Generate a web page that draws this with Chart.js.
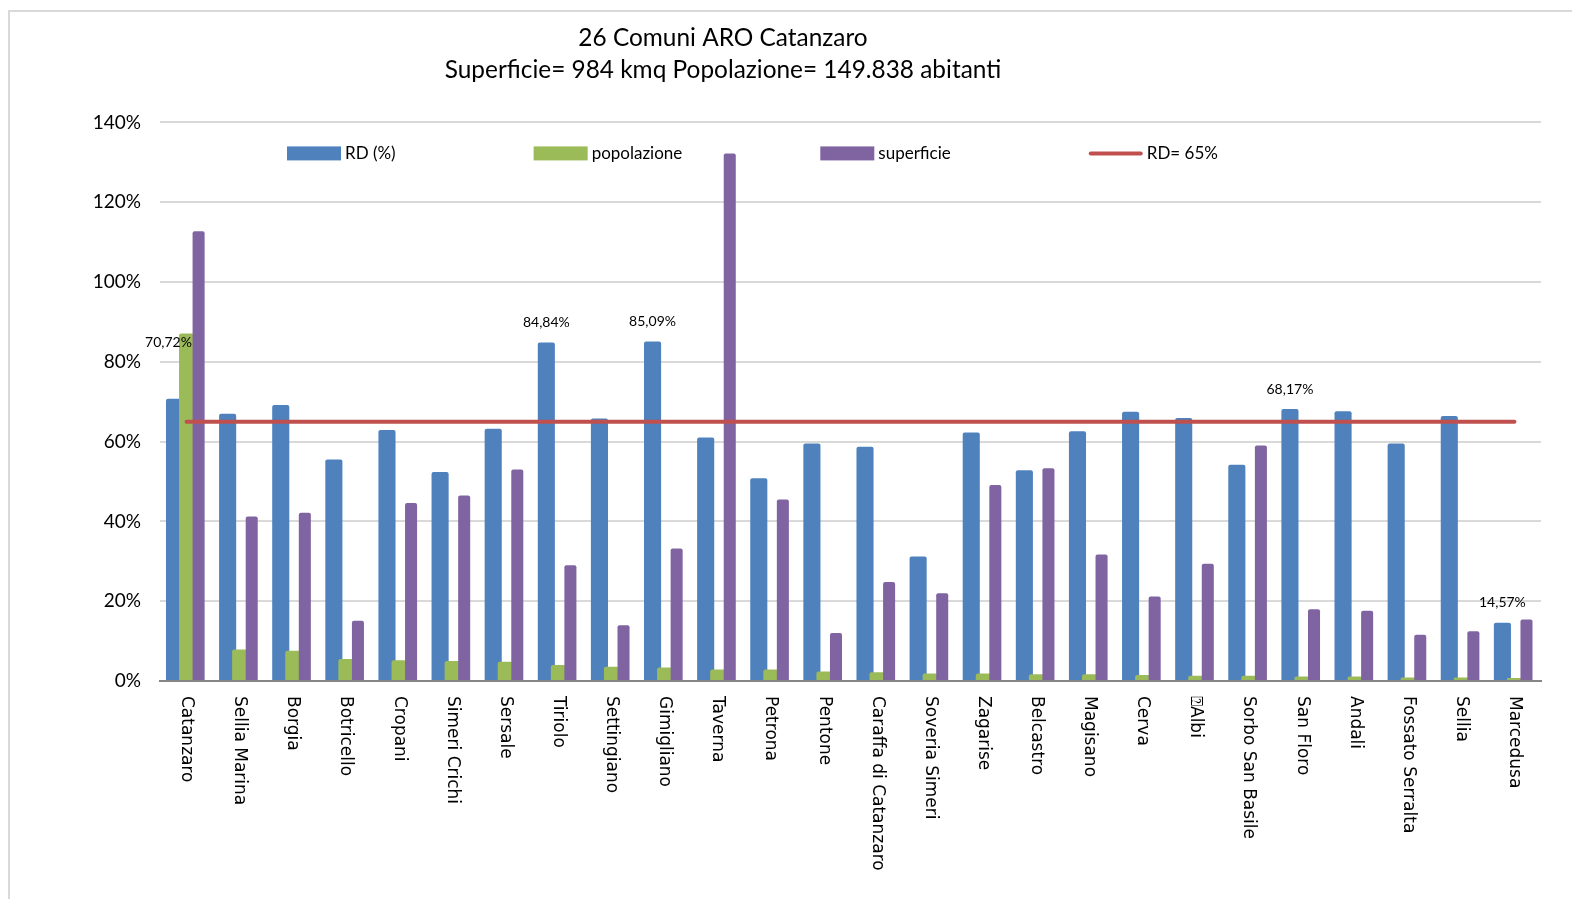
<!DOCTYPE html>
<html>
<head>
<meta charset="utf-8">
<script src="https://cdn.jsdelivr.net/npm/chart.js@4.4.1/dist/chart.umd.min.js"></script>
<style>
    html, body { margin: 0; padding: 0; background: #fff; overflow: hidden; }
    #frame { position: absolute; left: 8px; top: 10px; width: 1600px; height: 1000px; border: 2px solid #d9d9d9; box-sizing: border-box; }
    #wrap { position: absolute; left: 0; top: 0; width: 1572px; height: 899px; }
</style>
</head>
<body>
<div id="frame"></div>
<div id="wrap"><canvas id="chart" width="1572" height="899"></canvas></div>
<script>
const comuni = ['Catanzaro', 'Sellia Marina', 'Borgia', 'Botricello', 'Cropani', 'Simeri Crichi', 'Sersale',
    'Tiriolo', 'Settingiano', 'Gimigliano', 'Taverna', 'Petrona', 'Pentone', 'Caraffa di Catanzaro',
    'Soveria Simeri', 'Zagarise', 'Belcastro', 'Magisano', 'Cerva', '\u2370Albi', 'Sorbo San Basile',
    'San Floro', 'Andali', 'Fossato Serralta', 'Sellia', 'Marcedusa'];

const rd = [70.72, 67.0, 69.2, 55.5, 62.9, 52.4, 63.2, 84.84, 65.8, 85.09, 61.0, 50.8, 59.5,
    58.7, 31.2, 62.3, 52.8, 62.6, 67.5, 65.9, 54.2, 68.17, 67.6, 59.5, 66.4, 14.57];
const popolazione = [87.1, 7.9, 7.6, 5.5, 5.2, 5.0, 4.8, 4.0, 3.6, 3.4, 2.9, 2.9, 2.4,
    2.2, 1.9, 1.9, 1.7, 1.7, 1.5, 1.3, 1.3, 1.1, 1.1, 0.9, 0.9, 0.75];
const superficie = [112.7, 41.2, 42.2, 15.1, 44.6, 46.5, 53.0, 29.0, 14.0, 33.2, 132.2, 45.5, 12.0,
    24.8, 22.0, 49.1, 53.3, 31.7, 21.2, 29.4, 59.0, 18.0, 17.6, 11.6, 12.5, 15.4];
const SOGLIA_RD = 65;

const yTicks = [0, 20, 40, 60, 80, 100, 120, 140];
const rdLabelled = [0, 7, 9, 21, 25]; // comuni with the RD value written above the bar

const titleLines = ['26 Comuni ARO Catanzaro', 'Superficie= 984 kmq Popolazione= 149.838 abitanti'];

// the excel title is not centred on the canvas
const titleShift = {
    id: 'titleShift',
    afterLayout(chart) {
        const t = chart.titleBlock;
        t.left = 8;
        t.right = 1438;
        t.width = t.right - t.left;
    }
};

// legend sits inside the plot, under the 140% line
const innerLegend = {
    id: 'innerLegend',
    afterDatasetsDraw(chart) {
        const {ctx, chartArea} = chart;
        let x = chartArea.left + 127;
        const y = chartArea.top + 31;
        ctx.save();
        ctx.font = '17px Lato';
        ctx.textBaseline = 'middle';
        ctx.textAlign = 'left';
        chart.data.datasets.forEach(ds => {
            if (ds.type === 'line') {
                ctx.strokeStyle = ds.borderColor;
                ctx.lineWidth = 4;
                ctx.lineCap = 'round';
                ctx.beginPath();
                ctx.moveTo(x + 2, y);
                ctx.lineTo(x + 52, y);
                ctx.stroke();
            } else {
                ctx.fillStyle = ds.backgroundColor;
                ctx.fillRect(x, y - 7, 54, 14);
            }
            ctx.fillStyle = '#000';
            ctx.fillText(ds.label, x + 58, y);
            x += 58 + ctx.measureText(ds.label).width + 138;
        });
        ctx.restore();
    }
};

// category names read top to bottom
const verticalLabels = {
    id: 'verticalLabels',
    afterDraw(chart) {
        const {ctx, chartArea} = chart;
        const xScale = chart.scales.x;
        ctx.save();
        ctx.font = '17px "DejaVu Sans"';
        ctx.fillStyle = '#000';
        ctx.textAlign = 'left';
        ctx.textBaseline = 'middle';
        chart.data.labels.forEach((lab, i) => {
            ctx.save();
            ctx.translate(xScale.getPixelForValue(i), chartArea.bottom + 15);
            ctx.rotate(Math.PI / 2);
            ctx.fillText(lab, 0, 0);
            ctx.restore();
        });
        ctx.restore();
    }
};

const valueLabels = {
    id: 'valueLabels',
    afterDatasetsDraw(chart) {
        const {ctx} = chart;
        const meta = chart.getDatasetMeta(0);
        ctx.save();
        ctx.font = '14px Lato';
        ctx.fillStyle = '#000';
        ctx.textAlign = 'center';
        ctx.textBaseline = 'middle';
        rdLabelled.forEach(i => {
            const bar = meta.data[i];
            // the Catanzaro label was dragged up next to the green bar
            const dx = i === 0 ? -6 : 0;
            const dy = i === 0 ? -36 : 0;
            ctx.fillText(rd[i].toFixed(2).replace('.', ',') + '%', bar.x + dx, bar.y - 20 + dy);
        });
        ctx.restore();
    }
};

const ctx = document.getElementById('chart');

// draw order is blue, green, purple, line (purple over green over blue).
// chart.js puts the last drawn bar in the first slot, so the slots are mirrored
// with negative percentages to keep blue on the left.
new Chart(ctx, {
    type: 'bar',
    data: {
        labels: comuni,
        datasets: [
            {
                label: 'RD (%)',
                data: rd,
                backgroundColor: '#4F81BD',
                barPercentage: -1.42,
                order: 3
            },
            {
                label: 'popolazione',
                data: popolazione,
                backgroundColor: '#9BBB59',
                barPercentage: -1.25,
                order: 2
            },
            {
                label: 'superficie',
                data: superficie,
                backgroundColor: '#8064A2',
                barPercentage: -1,
                order: 1
            },
            {
                type: 'line',
                label: 'RD= 65%',
                data: comuni.map(() => SOGLIA_RD),
                borderColor: '#C0504D',
                borderWidth: 4,
                borderCapStyle: 'round',
                pointRadius: 0,
                order: 0
            }
        ]
    },
    options: {
        responsive: false,
        animation: false,
        layout: {
            padding: {left: 0, right: 31, top: 0, bottom: 0}
        },
        datasets: {
            bar: {
                categoryPercentage: -0.68,
                borderRadius: 2
            }
        },
        scales: {
            x: {
                grid: {display: false, drawTicks: false},
                border: {color: '#868686', width: 2},
                ticks: {display: false},
                afterFit: s => { s.height = 218; }
            },
            y: {
                min: 0,
                max: 140,
                afterBuildTicks: s => { s.ticks = yTicks.map(v => ({value: v})); },
                ticks: {
                    padding: 19,
                    color: '#000',
                    font: {family: 'Lato', size: 19},
                    callback: v => v + '%'
                },
                grid: {color: '#d9d9d9', lineWidth: 2, drawTicks: false},
                border: {display: false},
                afterFit: s => { s.width = 160; }
            }
        },
        plugins: {
            legend: {display: false},
            tooltip: {enabled: false},
            title: {
                display: true,
                text: titleLines,
                color: '#000',
                font: {family: 'Lato', size: 24.4, weight: 'normal', lineHeight: 1.32},
                padding: {top: 22, bottom: 36}
            }
        }
    },
    plugins: [titleShift, innerLegend, verticalLabels, valueLabels]
});
</script>
</body>
</html>
